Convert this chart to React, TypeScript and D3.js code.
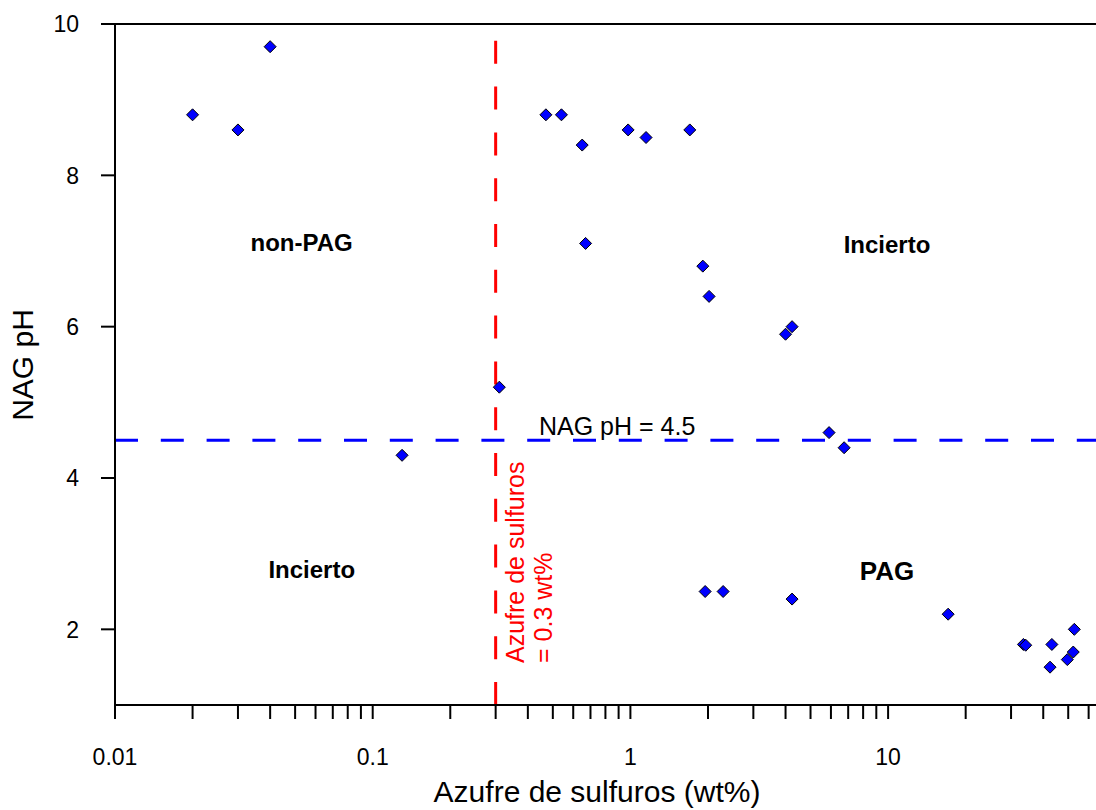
import React from "react";
import * as d3 from "d3";

const sulfurWt = [0.02, 0.03, 0.04, 0.13, 0.31, 0.47, 0.54, 0.65, 0.67, 0.98, 1.15, 1.7, 1.91, 2.02, 4.0, 4.24, 5.9, 6.75, 1.95, 2.29, 4.24, 17.1, 33.5, 34.2, 43.2, 42.5, 49.6, 52.3, 52.8];
const nagPH = [8.8, 8.6, 9.7, 4.3, 5.2, 8.8, 8.8, 8.4, 7.1, 8.6, 8.5, 8.6, 6.8, 6.4, 5.9, 6.0, 4.6, 4.4, 2.5, 2.5, 2.4, 2.2, 1.8, 1.79, 1.8, 1.5, 1.6, 1.7, 2.0];
const xTickValues = [0.01, 0.1, 1, 10];
const xTickLabels = ["0.01", "0.1", "1", "10"];
const yTickValues = [2, 4, 6, 8, 10];
const yTickLabels = ["2", "4", "6", "8", "10"];
const nagThreshold = 4.5;
const sulfurThreshold = 0.3;
const regionLabels = [
  { text: "non-PAG", x: 0.053, y: 7.0 },
  { text: "Incierto", x: 9.9, y: 6.98 },
  { text: "Incierto", x: 0.058, y: 2.68 },
  { text: "PAG", x: 9.9, y: 2.65 },
];

const W = 1096;
const H = 810;
const FONT = "'Liberation Sans', Arial, sans-serif";

export default function App() {
  const left = 115;
  const top = 24;
  const bottom = 705;
  const decade = 257.7;
  const x = d3.scaleLog().domain([0.01, 100]).range([left, left + 4 * decade]);
  const y = d3.scaleLinear().domain([1, 10]).range([bottom, top]);

  const minorTicks: number[] = [];
  for (let e = -2; e <= 1; e++) {
    for (let m = 1; m <= 9; m++) {
      const v = m * Math.pow(10, e);
      if (x(v) <= W) minorTicks.push(v);
    }
  }

  const r = 6;
  const diamond = `M0,${-r}L${r},0L0,${r}L${-r},0Z`;

  return (
    <svg width={W} height={H} style={{ position: "absolute", left: 0, top: 0, background: "#fff" }} fontFamily={FONT}>
      {/* threshold lines */}
      <line x1={left} x2={W} y1={y(nagThreshold)} y2={y(nagThreshold)} stroke="#0000ff" strokeWidth={3} strokeDasharray="23,22.8" />
      <line x1={x(sulfurThreshold)} x2={x(sulfurThreshold)} y1={y(1)} y2={y(9.78)} stroke="#ff0000" strokeWidth={3} strokeDasharray="23,22.8" />

      {/* axes */}
      <line x1={left} x2={W} y1={bottom} y2={bottom} stroke="#000" strokeWidth={2} />
      <line x1={left} x2={W} y1={top} y2={top} stroke="#000" strokeWidth={2} />
      <line x1={left} x2={left} y1={top} y2={bottom} stroke="#000" strokeWidth={2} />

      {minorTicks.map((v, i) => (
        <line key={"xt" + i} x1={x(v)} x2={x(v)} y1={bottom} y2={bottom + 14} stroke="#000" strokeWidth={2} />
      ))}
      {xTickValues.map((v, i) => (
        <text key={"xl" + i} x={x(v)} y={765} fontSize={23} textAnchor="middle" fill="#000">{xTickLabels[i]}</text>
      ))}
      {yTickValues.map((v, i) => (
        <g key={"yt" + i}>
          <line x1={left - 14} x2={left} y1={y(v)} y2={y(v)} stroke="#000" strokeWidth={2} />
          <text x={79} y={y(v)} dy="0.36em" fontSize={23} textAnchor="end" fill="#000">{yTickLabels[i]}</text>
        </g>
      ))}

      {/* axis titles */}
      <text x={597} y={802} fontSize={30} textAnchor="middle" fill="#000">Azufre de sulfuros (wt%)</text>
      <text transform="translate(33,365) rotate(-90)" fontSize={30} textAnchor="middle" fill="#000">NAG pH</text>

      {/* annotations */}
      <text x={539} y={435} fontSize={25} fill="#000">NAG pH = 4.5</text>
      <text transform="translate(524,663) rotate(-90)" fontSize={25} fill="#ff0000">Azufre de sulfuros</text>
      <text transform="translate(552,663) rotate(-90)" fontSize={25} fill="#ff0000">= 0.3 wt%</text>
      {regionLabels.map((d, i) => (
        <text key={"rl" + i} x={x(d.x)} y={y(d.y)} fontSize={d.text === "PAG" ? 26 : 24} fontWeight="bold" textAnchor="middle" fill="#000">{d.text}</text>
      ))}

      {/* points */}
      {sulfurWt.map((v, i) => (
        <path key={"p" + i} d={diamond} transform={`translate(${x(v)},${y(nagPH[i])})`} fill="#0000ff" stroke="#000" strokeWidth={1} />
      ))}
    </svg>
  );
}
